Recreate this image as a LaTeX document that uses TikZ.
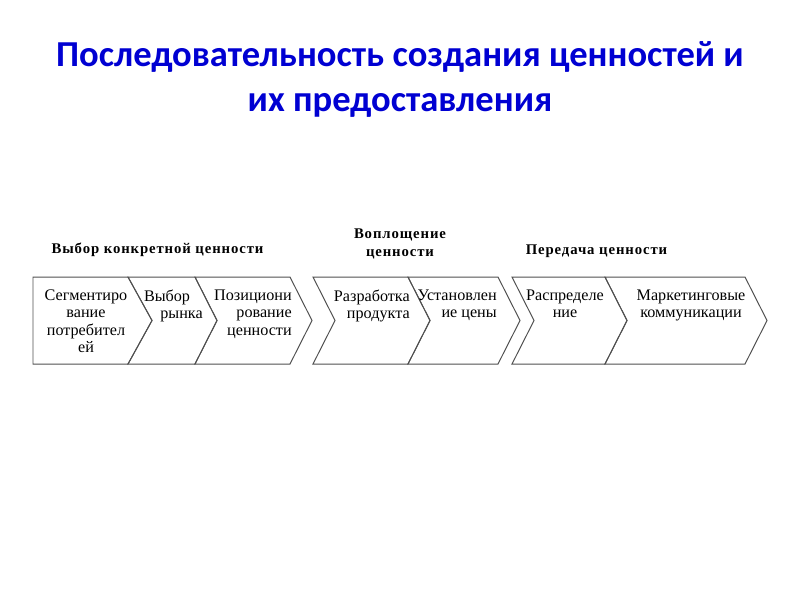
\documentclass[tikz,border=0pt]{standalone}
\usepackage{fontspec}
\setmainfont{Liberation Serif}
\newfontfamily\titlefont{Carlito}
\newfontfamily\headfont[LetterSpace=6]{Liberation Serif}
\definecolor{titleblue}{RGB}{0,0,210}
\definecolor{chevgray}{RGB}{80,80,80}

\begin{document}
\begin{tikzpicture}[x=0.025cm,y=-0.025cm,
    chev/.style={draw=chevgray, line width=0.7pt, line join=miter},
    stage/.style={inner sep=0pt, font=\fontsize{11.5}{12.4}\selectfont},
    phase/.style={inner sep=0pt, align=center, font=\headfont\bfseries\fontsize{10.5}{12.8}\selectfont},
    title/.style={inner sep=0pt, text=titleblue, font=\titlefont\bfseries\fontsize{26}{32}\selectfont}]
    \useasboundingbox (0,0) rectangle (800,600);

    % title
    \node[title, anchor=base] (title1) at (400,66) {Последовательность создания ценностей и};
    \node[title, anchor=base] (title2) at (400,111) {их предоставления};

    % chevrons, first group
    \draw[chev] (33,277) -- (128,277) -- (152,320.5) -- (128,364) -- (33,364) -- cycle;
    \draw[chev] (128,277) -- (195,277) -- (217,320.5) -- (195,364) -- (128,364) -- (152,320.5) -- cycle;
    \draw[chev] (195,277) -- (290,277) -- (312,320.5) -- (290,364) -- (195,364) -- (217,320.5) -- cycle;

    % chevrons, second group
    \draw[chev] (313,277) -- (408,277) -- (430,320.5) -- (408,364) -- (313,364) -- (335,320.5) -- cycle;
    \draw[chev] (408,277) -- (498,277) -- (520,320.5) -- (498,364) -- (408,364) -- (430,320.5) -- cycle;

    % chevrons, third group
    \draw[chev] (512,277) -- (605,277) -- (627,320.5) -- (605,364) -- (512,364) -- (534,320.5) -- cycle;
    \draw[chev] (605,277) -- (745,277) -- (767,320.5) -- (745,364) -- (605,364) -- (627,320.5) -- cycle;

    % group headings
    \node[phase, anchor=base] (choice) at (157.5,253.5) {Выбор конкретной ценности};
    \node[phase, anchor=north] (embody) at (400,228.5) {Воплощение\\ценности};
    \node[phase, anchor=base] (deliver) at (596.5,254) {Передача ценности};

    % stage texts
    \node[stage, anchor=north, align=center] (segment) at (86,289.5) {Сегментиро\\вание\\потребител\\ей};
    \node[stage, anchor=north east, align=right] (market) at (203,289.5) {Выбор\hspace*{9pt}\\рынка};
    \node[stage, anchor=north east, align=right] (position) at (292,289.5) {Позициони\\рование\\ценности};
    \node[stage, anchor=north east, align=right] (product) at (410,289.5) {Разработка\\продукта};
    \node[stage, anchor=north east, align=right] (price) at (497,289.5) {Установлен\\ие цены};
    \node[stage, anchor=north, align=center] (distrib) at (565,289.5) {Распределе\\ние};
    \node[stage, anchor=north, align=center] (promo) at (691,289.5) {Маркетинговые\\коммуникации};
\end{tikzpicture}
\end{document}
